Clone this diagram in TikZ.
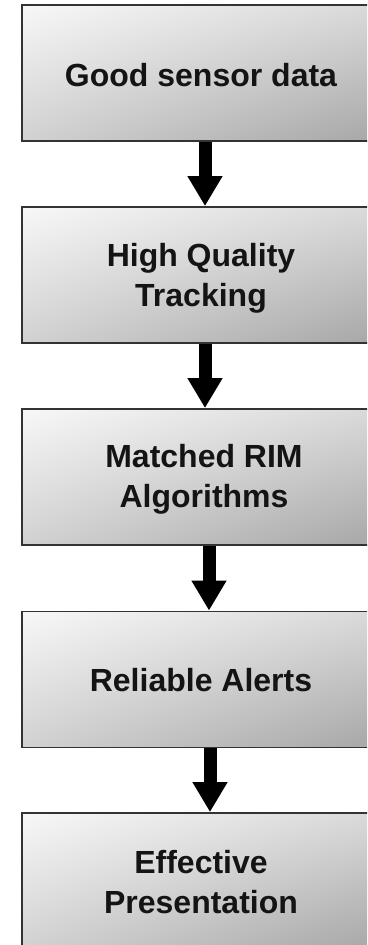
\documentclass[tikz,border=0pt]{standalone}
\usepackage{fontspec}
\setmainfont{Liberation Sans}
\usetikzlibrary{arrows.meta,shadings}
\tikzset{
  stage/.style={draw=black!80, line width=1.8pt, rectangle,
    minimum width=363pt, minimum height=136pt, inner sep=0pt,
    shade, upper left=black!3, upper right=black!15,
    lower left=black!18, lower right=black!35},
  caption/.style={font=\fontsize{32}{40}\selectfont\bfseries,
    align=center, inner sep=0pt, text=black!92},
  flow/.style={draw=black, line width=13pt,
    -{Triangle[width=33pt,length=30pt]}}
}
\begin{document}
\begin{tikzpicture}[x=1pt,y=-1pt]
\useasboundingbox (0,0) rectangle (367,945);
\fill[white] (0,0) rectangle (367,945);
\begin{scope}
\clip (0,0) rectangle (367,945);
% boxes
\node[stage] (b1) at (203.5,73) {};
\node[stage] (b2) at (203.5,275) {};
\node[stage] (b3) at (203.5,477) {};
\node[stage] (b4) at (203.5,679.5) {};
\node[stage] (b5) at (203.5,881) {};
% labels
\node[caption] (t1) at (201,75.5) {Good sensor data};
\node[caption] (t2) at (201,278.5) {High Quality\\Tracking};
\node[caption] (t3) at (204,479.5) {Matched RIM\\Algorithms};
\node[caption] (t4) at (201,680.5) {Reliable Alerts};
\node[caption] (t5) at (201,882) {Effective\\Presentation};
% arrows
\draw[flow] ([xshift=1.5pt]b1.south) -- ([xshift=1.5pt]b2.north);
\draw[flow] ([xshift=1.5pt]b2.south) -- ([xshift=1.5pt]b3.north);
\draw[flow] ([xshift=5.5pt]b3.south) -- ([xshift=5.5pt]b4.north);
\draw[flow] ([xshift=6.5pt]b4.south) -- ([xshift=6.5pt]b5.north);
\end{scope}
\end{tikzpicture}
\end{document}
